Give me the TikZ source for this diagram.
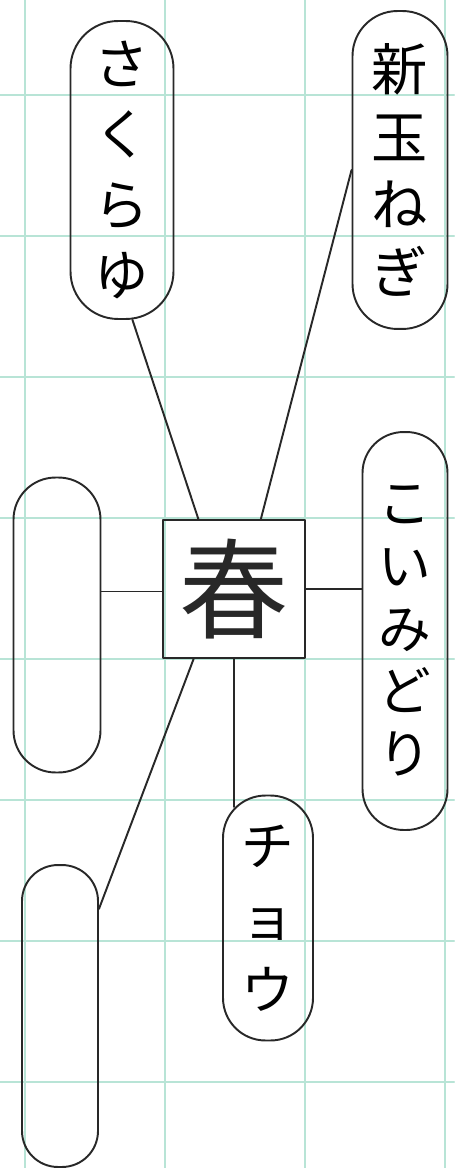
\documentclass[tikz,border=0pt]{standalone}
\usepackage{fontspec}
\newfontfamily\jp{Noto Sans CJK JP}
\definecolor{gridcol}{RGB}{184,228,214}
\definecolor{pen}{RGB}{40,40,40}
\begin{document}
\begin{tikzpicture}[x=0.02cm, y=-0.02cm, line join=round, line cap=round,
	gridline/.style={gridcol, line width=1.6pt},
	bubble/.style={draw=pen, line width=1.1pt, rounded corners=0.85cm, inner sep=0pt, align=center},
	hub/.style={draw=pen, line width=1.1pt, rectangle, inner sep=0pt, minimum width=2.84cm, minimum height=2.76cm},
	link/.style={pen, line width=1.1pt}]
	\useasboundingbox (0,0) rectangle (454,1168);
	% graph paper
	\foreach \gy in {95,236,...,1090}
	\draw[gridline] (0,\gy)--(454,\gy);
	\foreach \gx in {25,165,...,450}
	\draw[gridline] (\gx,0)--(\gx,1168);
	% centre
	\node[hub, font=\jp\fontsize{62}{62}\selectfont, text=pen] (haru) at (234,589) {春};
	% bubbles
	\node[bubble, rounded corners=0.95cm, minimum width=2.06cm, minimum height=5.96cm, font=\jp\fontsize{31}{40}\selectfont] (sakura) at (122,170) {さ\\く\\ら\\ゆ};
	\node[bubble, rounded corners=0.9cm, minimum width=1.90cm, minimum height=6.36cm, font=\jp\fontsize{32}{38.5}\selectfont] (tama) at (400,170) {新\\玉\\ね\\ぎ};
	\node[bubble, rounded corners=0.82cm, minimum width=1.70cm, minimum height=7.96cm, font=\jp\fontsize{30}{35.7}\selectfont] (koi) at (405,631) {こ\\い\\み\\ど\\り};
	\node[bubble, minimum width=1.80cm, minimum height=4.90cm, font=\jp\fontsize{30}{41}\selectfont] (chou) at (268,918) {チ\\ョ\\ウ};
	\node[bubble, rounded corners=0.84cm, minimum width=1.74cm, minimum height=5.90cm] (hidari) at (57,625) {};
	\node[bubble, rounded corners=0.72cm, minimum width=1.52cm, minimum height=6.04cm] (shita) at (60,1016) {};
	% links
	\draw[link] (sakura.-86) -- (haru.117);
	\draw[link] (tama.west) -- (haru.69);
	\draw[link] (hidari.37) -- (haru.west |- hidari.37);
	\draw[link] (haru.east) -- (koi.west |- haru.east);
	\draw[link, shorten >=-7pt] (haru.south) -- (haru.south |- chou.north);
	\draw[link] (haru.240) -- (shita.70);
\end{tikzpicture}
\end{document}
